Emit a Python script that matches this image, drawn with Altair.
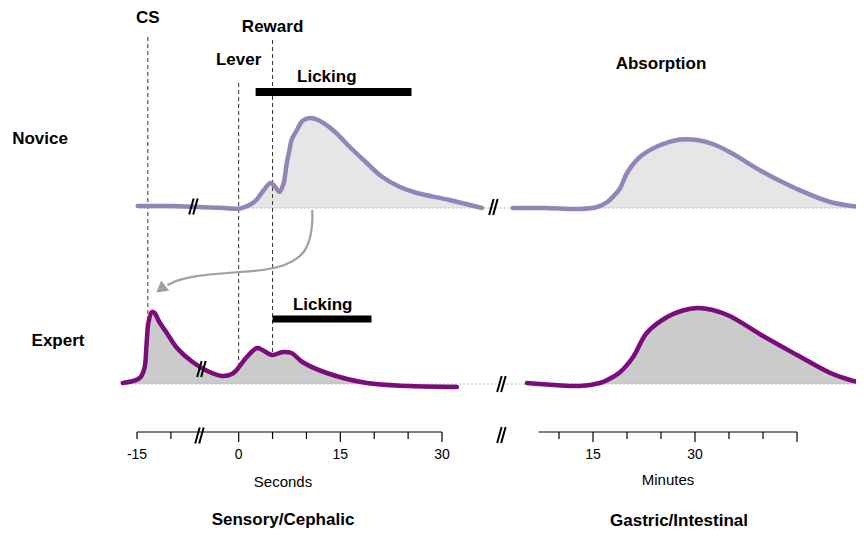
import altair as alt
import pandas as pd

# ---------------- data ----------------
# Sensory/Cephalic phase, time in seconds, response height above each row's baseline
NOV_SEC_T = [-14.9, -10.2, -5.8, -2.1, 0.2, 1.6, 2.6, 3.5, 4.7, 5.4, 6.0, 6.6, 7.1, 7.5,
             7.8, 8.6, 9.4, 10.5, 11.7, 13.9, 16.4, 18.9, 21.2, 23.8, 26.3, 31.1, 35.9]
NOV_SEC_R = [2, 2, 1, 0, -0.5, 3, 8, 16, 25, 21, 16, 24, 45, 58,
             68, 78, 87, 90, 88, 78, 61, 45, 31, 21, 15, 8, 0]

EXP_SEC_T = [-17.1, -14.6, -13.9, -13.6, -13.3, -12.8, -12.4, -11.7, -10.6, -9.1, -6.8, -4.3, -2.4,
             -1.0, -0.3, 1.2, 2.7, 3.5, 4.9, 6.5, 7.8, 9.4, 13.0, 18.9, 25.2, 32.2]
EXP_SEC_R = [1, 6, 16, 39, 62, 72, 71, 62, 51, 36, 22, 12, 8,
             10, 14, 27, 36, 34, 29, 32, 31, 22, 11, 1, -2, -3]

# Gastric/Intestinal phase, time in minutes
NOV_MIN_T = [3.2, 7.9, 13.1, 15.6, 17.1, 17.9, 19.0, 20.0, 21.9, 24.9, 27.8, 30.3, 32.6, 35.1,
             40.0, 45.0, 49.9, 54.3]
NOV_MIN_R = [0, 0, -1, 1, 6, 11, 20, 35, 51, 63, 68.5, 68, 64, 56, 36, 19, 6, 1]

EXP_MIN_T = [5.3, 9.4, 13.1, 16.0, 17.1, 19.0, 20.9, 22.9, 25.9, 28.2, 30.3, 32.6, 35.1,
             40.0, 45.0, 49.9, 52.8, 54.7]
EXP_MIN_R = [1, -1, -2, 1, 4, 12, 27, 51, 67, 73.5, 76, 74, 68, 48, 29, 11, 4, 1]

# events (seconds)
EVENT_NAMES = ["CS", "Lever", "Reward"]
EVENT_T = [-13.4, 0, 5]
LICK_NOVICE = [2.5, 25.5]
LICK_EXPERT = [5.0, 19.6]

# arrow path (seconds, height units)
ARROW_T = [10.85, 10.92, 10.6, 9.9, 9.0, 7.1, 4.1, 0.15, -3.5, -6.5, -9.0, -10.5]
ARROW_U = [174, 162, 146, 134, 127, 119, 114, 112, 110, 108, 104, 99]

# axes
SEC_TICKS = [-15, -10, 0, 5, 10, 15, 20, 25, 30]
SEC_LABELS = ["-15", "0", "15", "30"]
SEC_LABEL_V = [-15, 0, 15, 30]
MIN_TICKS = [10, 15, 20, 25, 30, 35, 40, 45]
MIN_LABELS = ["15", "30"]
MIN_LABEL_V = [15, 30]

# ---------------- layout ----------------
FONT = "Liberation Sans"
NOV_BASE = 176        # novice baseline in height units (expert baseline = 0)
AXIS_U = -48
NOV_LINE = "#9484ba"
EXP_LINE = "#7a0c7b"
NOV_FILL = "#e6e6e6"
EXP_FILL = "#cbcbcb"
INTERP = "catmull-rom"


def xs(f):
    return alt.X(f"{f}:Q", axis=None,
                 scale=alt.Scale(domain=[-15, 30], range=[129, 434], nice=False, zero=False))


def xm(f):
    return alt.X(f"{f}:Q", axis=None,
                 scale=alt.Scale(domain=[10, 45], range=[551, 789], nice=False, zero=False))


def yu(f):
    return alt.Y(f"{f}:Q", axis=None,
                 scale=alt.Scale(domain=[0, 100], range=[376, 276], nice=False, zero=False))


def curve(t, r, xenc, color, fill, base):
    df = pd.DataFrame({"t": t, "r": r})
    b = alt.Chart(df).transform_calculate(y=f"datum.r + {base}", y0=f"{base}")
    area = b.mark_area(color=fill, interpolate=INTERP).encode(
        x=xenc("t"), y=yu("y"), y2=alt.Y2("y0:Q"))
    line = b.mark_line(color=color, strokeWidth=4.5, interpolate=INTERP,
                       strokeCap="round").encode(x=xenc("t"), y=yu("y"))
    return area, line


nsa, nsl = curve(NOV_SEC_T, NOV_SEC_R, xs, NOV_LINE, NOV_FILL, NOV_BASE)
nma, nml = curve(NOV_MIN_T, NOV_MIN_R, xm, NOV_LINE, NOV_FILL, NOV_BASE)
esa, esl = curve(EXP_SEC_T, EXP_SEC_R, xs, EXP_LINE, EXP_FILL, 0)
ema, eml = curve(EXP_MIN_T, EXP_MIN_R, xm, EXP_LINE, EXP_FILL, 0)

# dotted baselines
base_df = pd.DataFrame({"a": [-14.6, -17.1], "b": [92, 92], "u": [NOV_BASE, 0]})
baselines = alt.Chart(base_df).mark_rule(color="#b4b4b4", strokeDash=[2, 2], strokeWidth=1).encode(
    x=xs("a"), x2="b:Q", y=yu("u"))

# dashed event lines
ev_df = pd.DataFrame({"name": EVENT_NAMES, "t": EVENT_T,
                      "top": [347, 301, 344], "bot": [59, 17, 32],
                      "lab": [366, 324, 357]})
ev_lines = alt.Chart(ev_df).mark_rule(color="#333333", strokeDash=[4, 3], strokeWidth=1).encode(
    x=xs("t"), y=yu("top"), y2="bot:Q")
ev_text = alt.Chart(ev_df).mark_text(font=FONT, fontSize=17, fontWeight="bold", color="black",
                                     baseline="middle").encode(
    x=xs("t"), y=yu("lab"), text="name:N")

# licking bars
lick_df = pd.DataFrame({"a": [LICK_NOVICE[0], LICK_EXPERT[0]], "b": [LICK_NOVICE[1], LICK_EXPERT[1]],
                        "u": [292, 65], "lab_t": [13.0, 12.4], "lab_u": [307, 79],
                        "txt": ["Licking", "Licking"]})
lick_nov = alt.Chart(lick_df.iloc[[0]]).mark_rule(color="black", strokeWidth=8).encode(
    x=xs("a"), x2="b:Q", y=yu("u"))
lick_exp = alt.Chart(lick_df.iloc[[1]]).mark_rule(color="black", strokeWidth=7).encode(
    x=xs("a"), x2="b:Q", y=yu("u"))
lick_text = alt.Chart(lick_df).mark_text(font=FONT, fontSize=17, fontWeight="bold", color="black",
                                         baseline="middle").encode(
    x=xs("lab_t"), y=yu("lab_u"), text="txt:N")

# arrow
arrow_df = pd.DataFrame({"t": ARROW_T, "u": ARROW_U, "i": list(range(len(ARROW_T)))})
arrow = alt.Chart(arrow_df).mark_line(color="#a0a0a0", strokeWidth=2.2, interpolate="basis").encode(
    x=xs("t"), y=yu("u"), order="i:Q")
head_df = pd.DataFrame({"t": [-11.5], "u": [95]})
arrow_head = alt.Chart(head_df).mark_point(shape="triangle-up", filled=True, color="#a0a0a0",
                                           size=170, angle=232, opacity=1).encode(
    x=xs("t"), y=yu("u"))

# break marks "//"
brk_df = pd.DataFrame({"t": [-6.64, 37.62, -5.46, 38.8, -5.75, 38.8],
                       "u": [177.5, 177, 15, 0, -51.5, -51]})
brk1 = alt.Chart(brk_df).mark_rule(color="black", strokeWidth=2, xOffset=-4.5, x2Offset=0,
                                   yOffset=8, y2Offset=-8).encode(
    x=xs("t"), x2="t:Q", y=yu("u"), y2="u:Q")
brk2 = alt.Chart(brk_df).mark_rule(color="black", strokeWidth=2, xOffset=-0.5, x2Offset=4,
                                   yOffset=8, y2Offset=-8).encode(
    x=xs("t"), x2="t:Q", y=yu("u"), y2="u:Q")

# axes (drawn)
sec_axis = alt.Chart(pd.DataFrame({"a": [-15], "b": [30], "u": [AXIS_U]})).mark_rule(
    color="black", strokeWidth=1.2).encode(x=xs("a"), x2="b:Q", y=yu("u"))
min_axis = alt.Chart(pd.DataFrame({"a": [7], "b": [45], "u": [AXIS_U]})).mark_rule(
    color="black", strokeWidth=1.2).encode(x=xm("a"), x2="b:Q", y=yu("u"))
sec_tick_df = pd.DataFrame({"v": SEC_TICKS, "y0": [AXIS_U] * len(SEC_TICKS),
                            "y1": [AXIS_U - (10 if v in SEC_LABEL_V[1:] else 7) for v in SEC_TICKS]})
min_tick_df = pd.DataFrame({"v": MIN_TICKS, "y0": [AXIS_U] * len(MIN_TICKS),
                            "y1": [AXIS_U - (10 if v in (15, 30, 45) else 7) for v in MIN_TICKS]})
sec_ticks = alt.Chart(sec_tick_df).mark_rule(color="black", strokeWidth=1.2).encode(
    x=xs("v"), y=yu("y0"), y2="y1:Q")
min_ticks = alt.Chart(min_tick_df).mark_rule(color="black", strokeWidth=1.2).encode(
    x=xm("v"), y=yu("y0"), y2="y1:Q")
sec_lab = alt.Chart(pd.DataFrame({"v": SEC_LABEL_V, "txt": SEC_LABELS, "u": [-71] * 4})).mark_text(
    font=FONT, fontSize=14, color="black", baseline="middle").encode(
    x=xs("v"), y=yu("u"), text="txt:N")
min_lab = alt.Chart(pd.DataFrame({"v": MIN_LABEL_V, "txt": MIN_LABELS, "u": [-71] * 2})).mark_text(
    font=FONT, fontSize=14, color="black", baseline="middle").encode(
    x=xm("v"), y=yu("u"), text="txt:N")


def label(txt, x, y, size=17, bold=True):
    return alt.Chart(pd.DataFrame({"txt": [txt]})).mark_text(
        font=FONT, fontSize=size, fontWeight="bold" if bold else "normal", color="black",
        baseline="middle").encode(x=alt.value(x), y=alt.value(y), text="txt:N")


labels = [
    label("Novice", 32, 131),
    label("Expert", 50, 333),
    label("Absorption", 653, 56),
    label("Seconds", 275, 474, 15, False),
    label("Minutes", 660, 472, 15, False),
    label("Sensory/Cephalic", 275, 512),
    label("Gastric/Intestinal", 671, 513),
]

chart = alt.layer(
    nsa, nma, esa, ema,
    baselines, ev_lines,
    nsl, nml, esl, eml,
    lick_nov, lick_exp, lick_text, ev_text,
    arrow, arrow_head,
    brk1, brk2,
    sec_axis, min_axis, sec_ticks, min_ticks, sec_lab, min_lab,
    *labels,
).resolve_scale(x="independent").properties(
    width=848, height=522, padding=0, autosize="none", background="white"
).configure_view(stroke=None)

chart.save("out.html", embed_options={"renderer": "svg", "actions": False})
